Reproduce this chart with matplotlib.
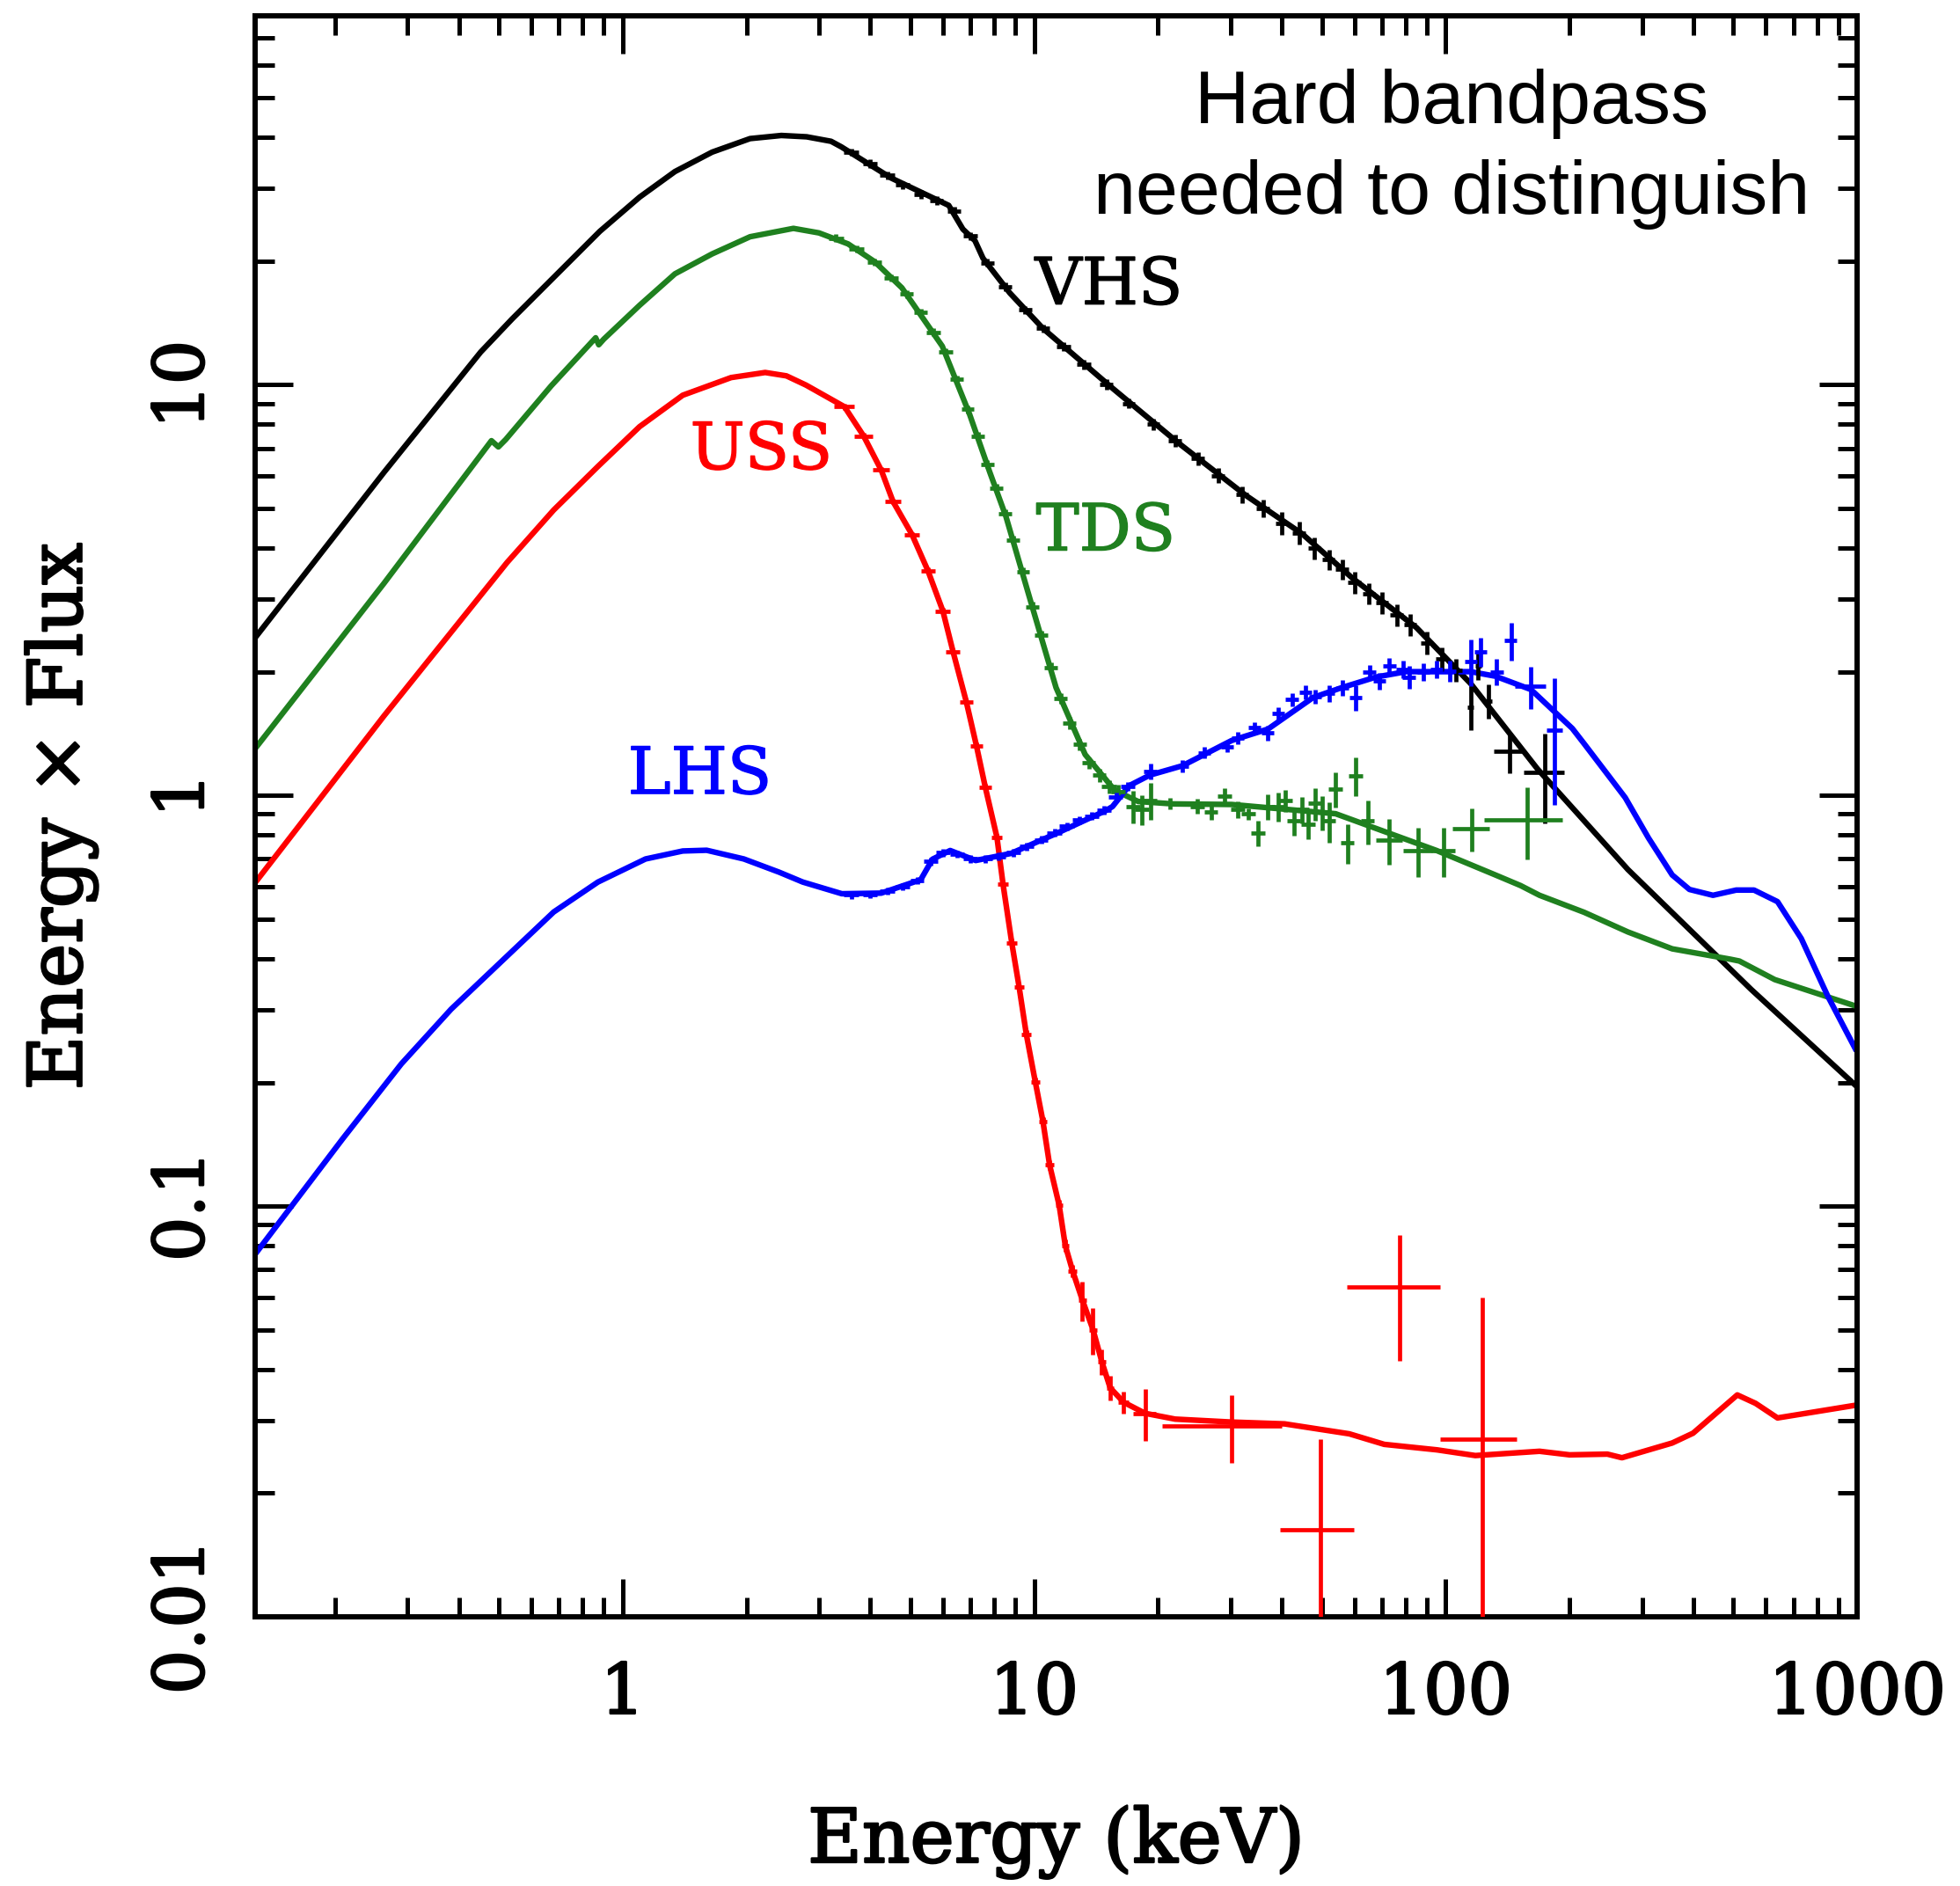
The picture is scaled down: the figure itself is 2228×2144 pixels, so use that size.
import numpy as np
import matplotlib.pyplot as plt
import matplotlib.patheffects as pe
from matplotlib.ticker import LogLocator, NullFormatter, FixedLocator, FixedFormatter

# ---- model curves: energy (keV) vs energy x flux ----
vhs_E = [0.128, 0.263, 0.452, 0.539, 0.88, 1.1, 1.34, 1.65, 2.04, 2.43, 2.8, 3.21, 3.40, 4.5, 6.2, 6.71, 7.18, 7.51,
         8.73, 10.5, 15.4, 22.4, 32.7, 44.8, 59.3, 84.9, 115, 167, 277, 552, 1000]
vhs_F = [2.42, 6.11, 12.0, 14.45, 23.6, 28.6, 33.0, 36.8, 39.7, 40.4, 40.1, 39.1, 37.9, 31.8, 27.3, 23.9, 22.4, 20.3,
         16.7, 13.7, 9.85, 7.21, 5.37, 4.33, 3.38, 2.56, 1.87, 1.16, 0.66, 0.337, 0.195]

tds_E = [0.128, 0.263, 0.48, 0.499, 0.52, 0.67, 0.86, 0.875, 0.90, 1.1, 1.34, 1.65, 2.04, 2.60, 3.0, 3.53, 4.1, 4.77, 5.98,
         6.96, 7.80, 8.54, 9.89, 11.3, 13.3, 15.7, 17.9, 21.8, 30.2, 54, 95, 132, 152, 169, 217, 277, 355,
         492, 517, 630, 1000]
tds_F = [1.30, 3.28, 7.3, 7.05, 7.35, 9.92, 13.0, 12.5, 12.9, 15.6, 18.6, 20.8, 22.9, 24.0, 23.4, 22.0, 19.9, 17.2, 12.4,
         8.49, 6.12, 4.77, 2.88, 1.83, 1.257, 1.028, 0.966, 0.953, 0.95, 0.902, 0.734, 0.64, 0.603, 0.571, 0.519, 0.465, 0.423,
         0.399, 0.395, 0.356, 0.306]

uss_E = [0.128, 0.263, 0.524, 0.68, 0.871, 1.1, 1.40, 1.835, 2.22, 2.5, 2.79, 3.46, 3.85, 4.25, 4.54, 5.05, 5.52, 6.0,
         6.35, 6.84, 7.24, 7.61, 8.12, 8.40, 8.82, 9.19, 9.57, 10.06, 10.5, 10.9, 11.5, 11.9, 12.4,
         13.1, 13.9, 14.6, 15.3, 16.5, 18.6, 22, 30.2, 40.6, 58.3, 70.9, 95.3, 118, 169, 200, 247,
         268, 355, 399, 511, 566, 640, 1000]
uss_F = [0.613, 1.56, 3.69, 4.95, 6.32, 7.9, 9.42, 10.4, 10.7, 10.5, 9.97, 8.83, 7.50, 6.19, 5.19, 4.31, 3.52, 2.81,
         2.24, 1.69, 1.32, 1.045, 0.79, 0.608, 0.438, 0.342, 0.262, 0.201, 0.161, 0.126, 0.1005, 0.0802, 0.0695,
         0.059, 0.050, 0.0418, 0.0361, 0.0333, 0.0313, 0.0303, 0.0298, 0.0295, 0.0279, 0.0263, 0.0255, 0.0247, 0.0253, 0.0248, 0.0249,
         0.0244, 0.0265, 0.028, 0.0347, 0.0331, 0.0305, 0.0328]

lhs_E = [0.128, 0.209, 0.29, 0.383, 0.532, 0.68, 0.871, 1.137, 1.40, 1.6, 1.97, 2.4, 2.74, 3.41, 4.25, 5.30, 5.66,
         6.25, 7.21, 8.78, 11.4, 14.9, 15.5, 17.0, 19.1, 22.9, 30.2, 37, 47.6, 56, 67.6, 80, 95.6,
         115, 132, 161, 203, 217, 247, 273, 311, 355, 391, 446, 508, 561, 640, 731, 847, 988]
lhs_F = [0.0764, 0.146, 0.222, 0.3015, 0.412, 0.52, 0.615, 0.70, 0.732, 0.735, 0.70, 0.65, 0.615, 0.576, 0.578, 0.623, 0.699,
         0.734, 0.694, 0.722, 0.81, 0.917, 0.939, 1.055, 1.12, 1.18, 1.36, 1.45, 1.73, 1.83, 1.94, 2.0, 2.0,
         2.0, 1.95, 1.81, 1.455, 1.335, 1.126, 0.987, 0.787, 0.64, 0.59, 0.571, 0.588, 0.588, 0.551, 0.448, 0.325, 0.242]

# ---- data points (E, F, xerr, yerr) ----
vhs_dE = [3.6, 4.0, 4.4, 4.8, 5.3, 5.8, 6.4, 7.0, 7.7, 8.5, 9.5, 10.5, 11.8, 13.2, 15.0, 17.0, 19.5, 22.0,
          25.0, 28.0, 32.0, 36.0, 40.0, 44.0, 48.0, 52.0, 56.0, 60.0, 65.0, 70.0, 76.0, 82.0, 90.0, 98.0,
          106, 115, 120, 127, 143, 174]
vhs_dF = [36.8, 34.5, 32.3, 30.6, 29.0, 28.0, 26.5, 23.0, 19.8, 17.3, 15.2, 13.7, 12.4, 11.2, 10.0, 9.0, 8.0, 7.3,
          6.6, 6.0, 5.4, 5.0, 4.6, 4.35, 4.0, 3.75, 3.55, 3.3, 3.1, 2.95, 2.75, 2.6, 2.35, 2.15,
          2.02, 1.64, 2.07, 1.70, 1.28, 1.135]
vhs_xe = [0.15, 0.16, 0.18, 0.19, 0.2, 0.22, 0.24, 0.26, 0.28, 0.3, 0.35, 0.4, 0.45, 0.5, 0.55, 0.6, 0.7, 0.8,
          0.9, 1.0, 1.1, 1.3, 1.4, 1.6, 1.7, 1.8, 2.0, 2.1, 2.3, 2.5, 2.7, 2.9, 3.1, 3.4,
          3.7, 2.0, 2.0, 2.5, 12.0, 19.5]
vhs_ye = [0.8, 0.8, 0.7, 0.7, 0.7, 0.7, 0.6, 0.5, 0.45, 0.4, 0.35, 0.3, 0.3, 0.3, 0.3, 0.25, 0.25, 0.25,
          0.25, 0.25, 0.25, 0.25, 0.3, 0.28, 0.25, 0.22, 0.2, 0.2, 0.18, 0.18, 0.17, 0.16, 0.15, 0.14,
          0.13, 0.2, 0.16, 0.16, 0.15, 0.28]

tds_dE = [3.3, 3.7, 4.1, 4.5, 4.9, 5.3, 5.7, 6.1, 6.5, 6.9, 7.3, 7.7, 8.1, 8.5, 8.9, 9.4, 9.9, 10.4, 11.0,
          11.6, 12.2, 12.9, 13.6, 14.4, 15.2, 16.0,
          17.43, 18.26, 19.15, 21.4, 24.9, 26.9, 29.0, 31.3, 33.1, 35.0, 37.0, 39.2, 40.7, 42.7, 44.7,
          46.4, 48.2, 50.1, 52.0, 54.0, 57.7, 60.5, 64.6, 73.0, 85.7, 98.7, 115.8, 158]
tds_dF = [22.7, 21.4, 19.9, 18.2, 16.6, 15.0, 13.4, 12.0, 10.3, 8.7, 7.5, 6.4, 5.6, 4.85, 4.19, 3.5, 2.88, 2.45, 2.05,
          1.72, 1.5, 1.33, 1.2, 1.12, 1.05, 1.02,
          0.939, 0.924, 0.971, 0.955, 0.94, 0.909, 0.995, 0.924, 0.90, 0.81, 0.939, 0.939, 0.971, 0.866, 0.924,
          0.851, 0.955, 0.909, 0.866, 1.036, 0.765, 1.116, 0.866, 0.778, 0.734, 0.734, 0.831, 0.872]
tds_xe = [0.14, 0.15, 0.16, 0.18, 0.19, 0.2, 0.22, 0.23, 0.24, 0.25, 0.27, 0.28, 0.3, 0.3, 0.32, 0.34, 0.36, 0.38, 0.4,
          0.42, 0.45, 0.48, 0.5, 0.55, 0.6, 0.6,
          0.7, 0.7, 0.75, 0.85, 1.0, 1.05, 1.15, 1.2, 1.3, 1.35, 1.4, 1.5, 1.6, 1.65, 1.75,
          1.8, 1.9, 1.95, 2.0, 2.1, 2.2, 2.4, 2.5, 5.5, 6.9, 6.5, 12.0, 34.0]
tds_ye = [0.5, 0.45, 0.4, 0.38, 0.35, 0.32, 0.3, 0.27, 0.24, 0.2, 0.18, 0.15, 0.13, 0.12, 0.1, 0.09, 0.08, 0.07, 0.06,
          0.05, 0.05, 0.045, 0.04, 0.04, 0.04, 0.04,
          0.085, 0.078, 0.10, 0.03, 0.04, 0.036, 0.047, 0.045, 0.03, 0.057, 0.066, 0.077, 0.06, 0.07, 0.068,
          0.07, 0.087, 0.089, 0.098, 0.10, 0.085, 0.12, 0.106, 0.1, 0.1, 0.1, 0.1, 0.175]

uss_dE = [3.46, 3.85, 4.25, 4.54, 5.05, 5.52, 6.0, 6.35, 6.84, 7.24, 7.61, 8.12, 8.40, 8.82, 9.19, 9.57,
          10.06, 10.5, 10.9, 11.5, 11.9, 12.4, 13.1, 13.9, 14.6, 15.3, 16.5, 18.6, 30.2, 49.7, 77.2, 123]
uss_dF = [8.83, 7.50, 6.19, 5.19, 4.31, 3.52, 2.81, 2.24, 1.69, 1.32, 1.045, 0.79, 0.608, 0.438, 0.342, 0.262,
          0.201, 0.161, 0.126, 0.1005, 0.0802, 0.0695, 0.059, 0.050, 0.0418, 0.0361, 0.0333, 0.0313, 0.0292, 0.0163, 0.0635, 0.0271]
uss_xe = [0.2, 0.2, 0.2, 0.2, 0.22, 0.22, 0.25, 0.25, 0.25, 0.25, 0.25, 0.25, 0.25, 0.25, 0.25, 0.25,
          0.25, 0.25, 0.25, 0.25, 0.25, 0.3, 0.3, 0.3, 0.3, 0.3, 0.5, 1.2, 9.7, 10.2, 19.6, 26.0]
uss_ye = [0.15, 0.12, 0.1, 0.08, 0.07, 0.06, 0.05, 0.04, 0.03, 0.025, 0.02, 0.015, 0.012, 0.009, 0.007, 0.006,
          0.005, 0.004, 0.0035, 0.003, 0.0028, 0.0025, 0.0066, 0.0066, 0.003, 0.0025, 0.002, 0.0045, 0.0055, 0.0108, 0.0215, 0.0327]

lhs_dE = [3.6, 4.0, 4.4, 4.8, 5.2, 5.6, 6.0, 6.5, 7.0, 7.6, 8.2, 8.9, 9.6, 10.4, 11.2, 12.0, 12.9, 13.8, 14.8,
          15.8, 16.9, 19.15, 22.9, 25.9, 29.5, 31.3, 34.3, 37.0, 39.2, 42.3, 45.6, 48.2, 52.0, 56.1, 60.5,
          65.2, 69.0, 73.0, 78.7, 81.5, 88.2, 95.0, 102.5, 115, 121.5, 133, 144, 161, 184]
lhs_dF = [0.572, 0.574, 0.585, 0.60, 0.62, 0.69, 0.725, 0.72, 0.70, 0.70, 0.71, 0.725, 0.75, 0.78, 0.81, 0.84, 0.87, 0.89, 0.92,
          0.99, 1.05, 1.144, 1.18, 1.27, 1.315, 1.38, 1.46, 1.42, 1.58, 1.71, 1.78, 1.74, 1.77, 1.83, 1.73,
          2.0, 1.90, 2.07, 2.03, 1.94, 2.0, 2.03, 2.01, 2.12, 2.24, 2.0, 2.38, 1.84, 1.44]
lhs_xe = [0.15, 0.16, 0.18, 0.19, 0.2, 0.22, 0.24, 0.26, 0.28, 0.3, 0.32, 0.35, 0.38, 0.4, 0.45, 0.48, 0.5, 0.55, 0.6,
          0.62, 0.66, 0.7, 0.8, 0.9, 1.0, 1.1, 1.2, 1.3, 1.4, 1.5, 1.6, 1.7, 1.8, 2.0, 2.1,
          2.3, 2.4, 2.6, 2.8, 2.9, 3.1, 3.3, 3.6, 4.0, 4.3, 5.0, 5.0, 14.0, 8.5]
lhs_ye = [0.012, 0.012, 0.012, 0.012, 0.013, 0.014, 0.015, 0.015, 0.015, 0.015, 0.015, 0.016, 0.016, 0.017, 0.018, 0.02, 0.02, 0.02, 0.022,
          0.025, 0.025, 0.05, 0.04, 0.04, 0.04, 0.05, 0.05, 0.06, 0.06, 0.06, 0.07, 0.07, 0.08, 0.08, 0.125,
          0.08, 0.09, 0.09, 0.10, 0.125, 0.10, 0.10, 0.12, 0.28, 0.18, 0.15, 0.25, 0.22, 0.49]

states = [
    ("VHS", "#000000", vhs_E, vhs_F, vhs_dE, vhs_dF, vhs_xe, vhs_ye),
    ("TDS", "#1f801f", tds_E, tds_F, tds_dE, tds_dF, tds_xe, tds_ye),
    ("USS", "#ff0000", uss_E, uss_F, uss_dE, uss_dF, uss_xe, uss_ye),
    ("LHS", "#0000ff", lhs_E, lhs_F, lhs_dE, lhs_dF, lhs_xe, lhs_ye),
]

plt.rcParams["font.family"] = ["DejaVu Serif"]

def heavy(color, w=1.5):
    # the original lettering is drawn with slightly thicker strokes
    return [pe.withStroke(linewidth=w, foreground=color)]

fig = plt.figure(figsize=(22.28, 21.44), dpi=100)
ax = fig.add_axes([0.1302, 0.1427, 0.8174, 0.8489])

for name, c, E, F, dE, dF, xe, ye in states:
    ax.plot(E, F, color=c, lw=4.6, solid_joinstyle="round", zorder=2)
    ax.errorbar(dE, dF, xerr=xe, yerr=ye, fmt="none", ecolor=c, elinewidth=3.4, capsize=0, zorder=3)

ax.set_xscale("log", nonpositive="clip")
ax.set_yscale("log", nonpositive="clip")
ax.set_xlim(0.128, 1000)
ax.set_ylim(0.01, 79)

ax.xaxis.set_major_locator(FixedLocator([1, 10, 100, 1000]))
ax.xaxis.set_major_formatter(FixedFormatter(["1", "10", "100", "1000"]))
ax.yaxis.set_major_locator(FixedLocator([0.01, 0.1, 1, 10]))
ax.yaxis.set_major_formatter(FixedFormatter(["0.01", "0.1", "1", "10"]))
for a in (ax.xaxis, ax.yaxis):
    a.set_minor_locator(LogLocator(base=10, subs=np.arange(2, 10), numticks=20))
    a.set_minor_formatter(NullFormatter())

ax.tick_params(which="both", direction="in", top=True, right=True, width=3.6, color="black")
ax.tick_params(which="major", length=31)
ax.tick_params(which="minor", length=16)
ax.tick_params(axis="x", which="major", labelsize=57, pad=36)
ax.tick_params(axis="y", which="major", labelsize=57, pad=31)
for lbl in ax.get_yticklabels():
    lbl.set_rotation(90)
    lbl.set_va("center")
    lbl.set_ha("right")
for lbl in ax.get_xticklabels() + ax.get_yticklabels():
    lbl.set_path_effects(heavy("black", 1.8))
for s in ax.spines.values():
    s.set_linewidth(4.3)

ax.set_xlabel("Energy (keV)", fontsize=61, path_effects=heavy("black", 1.8))
ax.set_ylabel("Energy \u00d7 Flux", fontsize=61, path_effects=heavy("black", 1.8))
ax.xaxis.set_label_coords(0.5, -0.118)
ax.yaxis.set_label_coords(-0.098, 0.5)

# state labels
ax.text(10.05, 15.7, "VHS", color="#000000", fontsize=53, ha="left", va="baseline", path_effects=heavy("#000000", 1.0))
ax.text(10.1, 3.95, "TDS", color="#1f801f", fontsize=53, ha="left", va="baseline", path_effects=heavy("#1f801f", 1.0))
ax.text(1.46, 6.23, "USS", color="#ff0000", fontsize=53, ha="left", va="baseline", path_effects=heavy("#ff0000", 1.0))
ax.text(1.03, 1.01, "LHS", color="#0000ff", fontsize=53, ha="left", va="baseline", path_effects=heavy("#0000ff", 1.0))

sans = ["Liberation Sans", "DejaVu Sans"]
fig.text(0.7406, 1 - 140 / 2144, "Hard bandpass", family=sans, fontsize=62, ha="center", va="baseline")
fig.text(0.7406, 1 - 243 / 2144, "needed to distinguish", family=sans, fontsize=62, ha="center", va="baseline")

fig.savefig("out.png", dpi=100)
